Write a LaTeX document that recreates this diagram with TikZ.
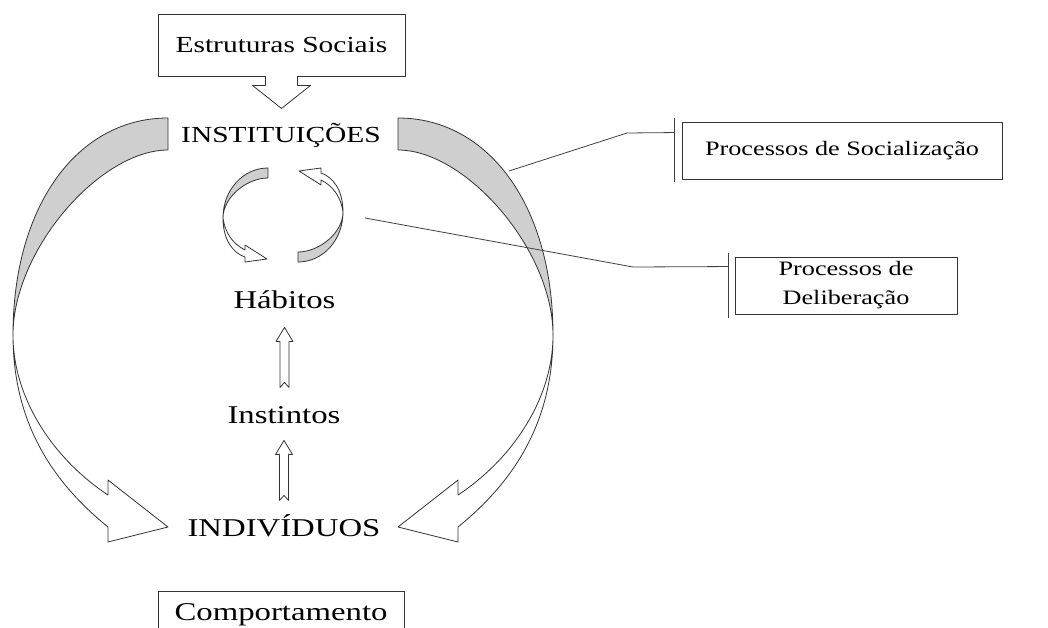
\documentclass[tikz,border=0pt]{standalone}
\usepackage{fontspec}
\setmainfont[FakeStretch=1.28]{Liberation Serif}
\usetikzlibrary{calc}
\definecolor{backface}{gray}{0.81}

\begin{document}
\begin{tikzpicture}[x=1pt,y=-1pt,line join=round,
    box/.style={draw=black!80,line width=0.9pt,inner sep=0pt},
    lbl/.style={inner sep=0pt,anchor=base},
    face/.style={draw=black!80,line width=0.8pt,fill=white},
    back/.style={draw=black!80,line width=0.8pt,fill=backface},
    link/.style={draw=black!75,line width=0.8pt}]
\useasboundingbox (0,0) rectangle (1048,628);

\node (inst) [lbl,font=\fontsize{23}{27}\selectfont] at (281,143) {INSTITUIÇÕES};
\node (hab) [lbl,font=\fontsize{25.6}{30}\selectfont] at (284.5,308) {Hábitos};
\node (ins) [lbl,font=\fontsize{25.6}{30}\selectfont] at (284,423) {Instintos};
\node (ind) [lbl,font=\fontsize{25.6}{30}\selectfont] at (284,536) {INDIVÍDUOS};

\node (est) [box,minimum width=247pt,minimum height=62pt,font=\fontsize{23}{27}\selectfont] at (281.5,45) {Estruturas Sociais};
\node (comp) [box,minimum width=246pt,minimum height=48pt,font=\fontsize{25.6}{30}\selectfont] at (281,615) {Comportamento};
\node (soc) [box,minimum width=320pt,minimum height=57pt,font=\fontsize{20.5}{24}\selectfont] at (842,150.5) {Processos de Socialização};
\node (del) [box,minimum width=222pt,minimum height=57pt,align=center,font=\fontsize{20.5}{29}\selectfont] at (846,285.5) {Processos de\\Deliberação};

% seta das estruturas
\fill[white] ($(est.south)+(-15.5,-2)$) rectangle ($(est.south)+(15.5,2)$);
\draw[face,fill=none] ($(est.south)+(-16,0)$) -- ++(0,9) -- ++(-13,0) -- ++(29,23) -- ++(29,-23) -- ++(-13,0) -- ++(0,-9);

% grandes setas curvas
\foreach \s in {1,-1} {
  \begin{scope}[shift={(283,0)},xscale=\s]
    \draw[back] (-115,118) .. controls (-205,118) and (-270,205) .. (-270,335)
                .. controls (-270,250) and (-183,150) .. (-115,150) -- cycle;
    \draw[face] (-270,335) .. controls (-270,420) and (-233,480) .. (-175,527)
                -- (-175,542) -- (-115,527) -- (-175,480) -- (-175,495)
                .. controls (-228,460) and (-270,400) .. (-270,335) -- cycle;
  \end{scope}
}

% setas do ciclo
\foreach \a in {0,180} {
  \begin{scope}[shift={(283,215)},rotate=\a]
    \draw[back] (-15,-47) .. controls (-40,-47) and (-60,-25) .. (-60,3)
                .. controls (-60,-18) and (-36,-37) .. (-15,-37) -- cycle;
    \draw[face] (-60,3) .. controls (-60,25) and (-50,38) .. (-38,42)
                -- (-38,47) -- (-16,44) -- (-38,30) -- (-38,35)
                .. controls (-50,29) and (-58,18) .. (-60,3) -- cycle;
  \end{scope}
}

\foreach \a/\g in {hab/19,ins/17}
  \draw[face] ($(\a.south)+(0,\g)$) -- ++(8.5,14) -- ++(-4,0) -- ++(0,46) -- ++(-4.5,-5)
              -- ++(-4.5,5) -- ++(0,-46) -- ++(-4,0) -- cycle;

\coordinate (s1) at (509,171);
\coordinate (d1) at (365,218);
\draw[link] (s1) -- (627,133) -- ($(soc.north west)+(-7,11)$);
\draw[link] ($(soc.north west)+(-7,-4)$) -- ($(soc.south west)+(-7,3)$);
\draw[link] (d1) -- (633,267) -- ($(del.north west)+(-6,10)$);
\draw[link] ($(del.north west)+(-6,-4)$) -- ($(del.south west)+(-6,4)$);
\end{tikzpicture}
\end{document}
